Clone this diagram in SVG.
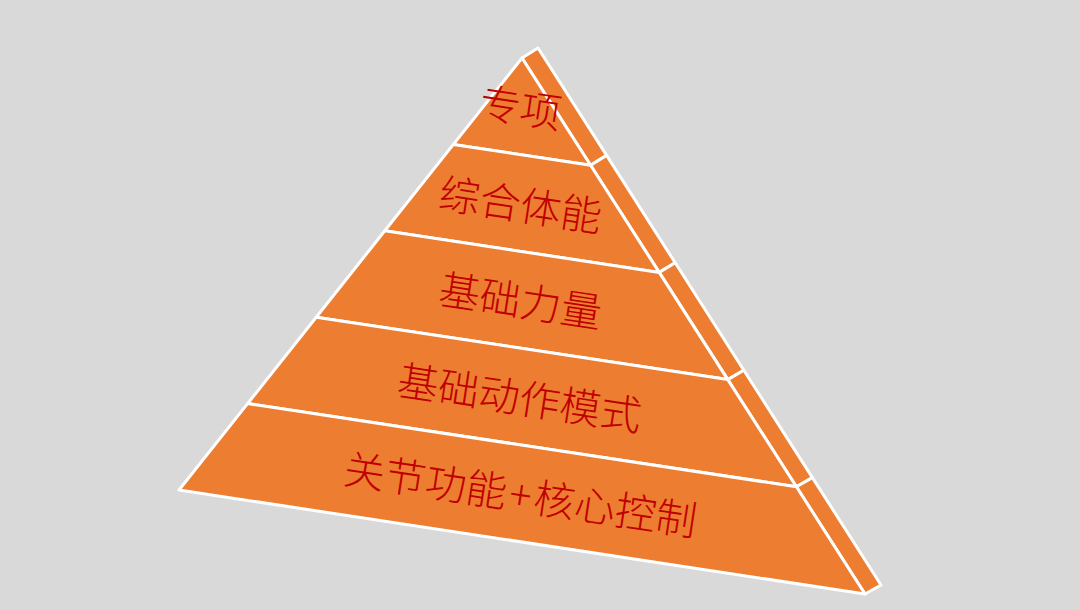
<svg xmlns="http://www.w3.org/2000/svg" width="1080" height="610" viewBox="0 0 1080 610">
<style>
.f{fill:#ED7D31;stroke:#FFFFFF;stroke-width:3;stroke-linejoin:round}
.t{font-family:"Noto Sans CJK SC","Noto Sans",sans-serif;font-size:41px;font-weight:300;fill:#C00000;text-anchor:middle;dominant-baseline:central}
</style>
<rect width="1080" height="610" fill="#D9D9D9"/>
<g id="side">
<polygon class="f" points="522,58 538,48 606.6,155.4 590.6,165.2"/>
<polygon class="f" points="590.6,165.2 606.6,155.4 675.2,262.8 659.2,272.4"/>
<polygon class="f" points="659.2,272.4 675.2,262.8 743.8,370.2 727.8,379.6"/>
<polygon class="f" points="727.8,379.6 743.8,370.2 812.4,477.6 796.4,486.8"/>
<polygon class="f" points="796.4,486.8 812.4,477.6 881,585 865,594"/>
</g>
<g id="level1">
<polygon class="f" points="522,58 590.6,165.2 453.4,144.4"/>
<text class="t" transform="translate(521,105) rotate(8.6)">专项</text>
</g>
<g id="level2">
<polygon class="f" points="453.4,144.4 590.6,165.2 659.2,272.4 384.8,230.8"/>
<text class="t" transform="translate(521,202) rotate(8.6)">综合体能</text>
</g>
<g id="level3">
<polygon class="f" points="384.8,230.8 659.2,272.4 727.8,379.6 316.2,317.2"/>
<text class="t" transform="translate(521,298) rotate(8.6)">基础力量</text>
</g>
<g id="level4">
<polygon class="f" points="316.2,317.2 727.8,379.6 796.4,486.8 247.6,403.6"/>
<text class="t" transform="translate(520,395) rotate(8.6)">基础动作模式</text>
</g>
<g id="level5">
<polygon class="f" points="247.6,403.6 796.4,486.8 865,594 179,490"/>
<text class="t" transform="translate(521,492) rotate(8.6)">关节功能<tspan dx="3">+</tspan><tspan dx="3">核心控制</tspan></text>
</g>
<g id="connectors"></g>
</svg>
